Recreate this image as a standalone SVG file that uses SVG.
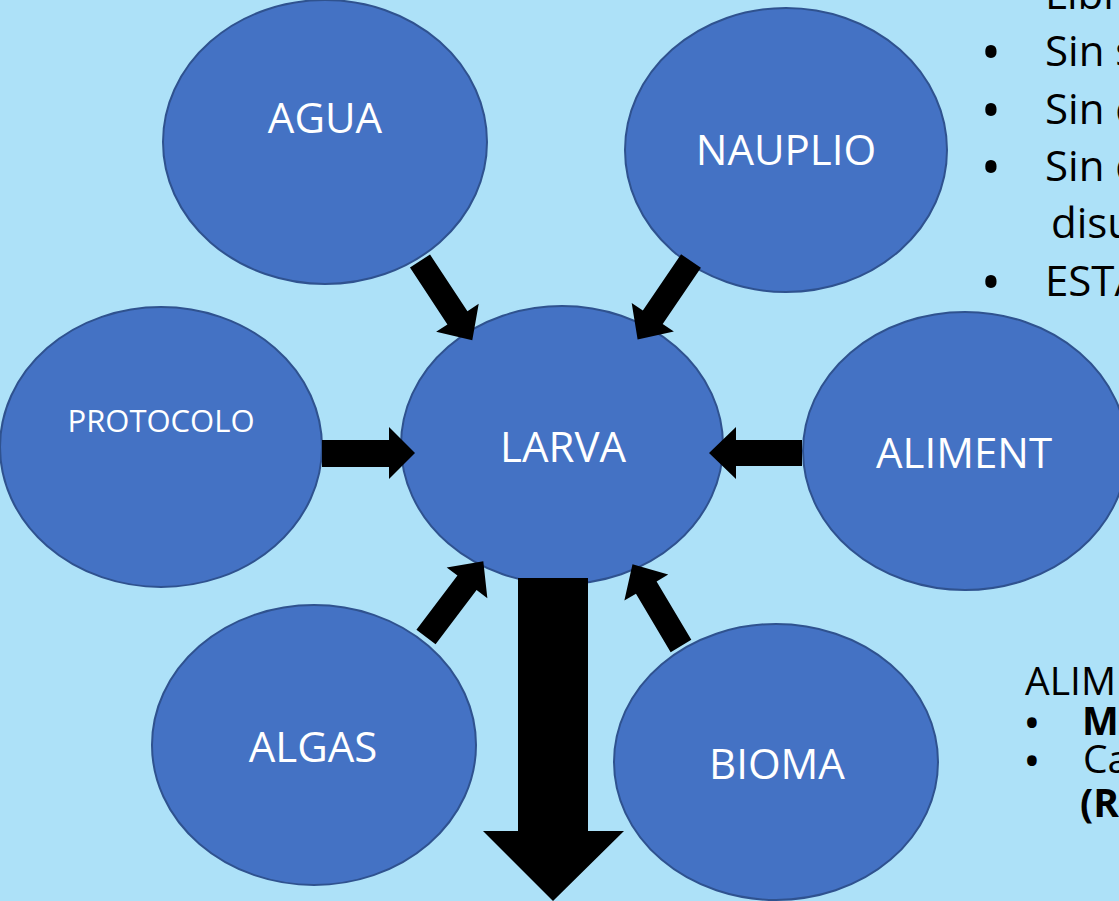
<svg xmlns="http://www.w3.org/2000/svg" width="1119" height="901" viewBox="0 0 1119 901">
<style>
.node{fill:#4472C4;stroke:#2F528F;stroke-width:2}
.lbl{fill:#FFFFFF;font-family:"Open Sans","Liberation Sans",sans-serif;font-size:42px;text-anchor:middle}
.arr{fill:#000000}
.side{fill:#000000;font-family:"Open Sans","Liberation Sans",sans-serif;font-size:42px}
.low{font-size:39px}
.bul{fill:#000000;font-family:"Open Sans","Liberation Sans",sans-serif;font-size:54px;text-anchor:middle}
.b{font-weight:bold}
</style>
<rect x="0" y="0" width="1119" height="901" fill="#ADE1F8"/>
<g id="agua"><ellipse class="node" cx="325" cy="142" rx="162" ry="142"/><text class="lbl" x="325" y="133">AGUA</text></g>
<g id="nauplio"><ellipse class="node" cx="786" cy="150" rx="161" ry="142"/><text class="lbl" x="786" y="165">NAUPLIO</text></g>
<g id="protocolo"><ellipse class="node" cx="161" cy="447" rx="161" ry="140"/><text class="lbl" x="161" y="432" style="font-size:31px">PROTOCOLO</text></g>
<g id="larva"><ellipse class="node" cx="562" cy="445" rx="161" ry="139"/><text class="lbl" x="563" y="462">LARVA</text></g>
<g id="aliment"><ellipse class="node" cx="965" cy="451" rx="162" ry="139"/><text class="lbl" x="964" y="468">ALIMENT</text></g>
<g id="algas"><ellipse class="node" cx="314" cy="745" rx="162" ry="140"/><text class="lbl" x="313" y="762">ALGAS</text></g>
<g id="bioma"><ellipse class="node" cx="776" cy="762" rx="162" ry="138"/><text class="lbl" x="777" y="779">BIOMA</text></g>
<g id="connectors">
<defs><polygon id="ba" points="0,-12 68,-12 68,-25.5 95,0 68,25.5 68,12 0,12"/></defs>
<use href="#ba" class="arr" transform="translate(420,261) rotate(56.6)"/>
<use href="#ba" class="arr" transform="translate(691,261) rotate(124.2)"/>
<polygon class="arr" points="322,440 389,440 389,427 415,453 389,479 389,467 322,467"/>
<polygon class="arr" points="802,440 736,440 736,427 709,453 736,479 736,466 802,466"/>
<use href="#ba" class="arr" transform="translate(426,637) rotate(-52.9)"/>
<use href="#ba" class="arr" transform="translate(681,646) rotate(-120.7)"/>
<polygon class="arr" points="518,578 588,578 588,831 624,831 553,901 483,831 518,831"/>
</g>
<g id="notes">
<text class="side" x="1045" y="9">Libr</text>
<text class="bul" x="991" y="72">•</text><text class="side" x="1045" y="66">Sin s</text>
<text class="bul" x="991" y="130">•</text><text class="side" x="1045" y="124">Sin d</text>
<text class="bul" x="991" y="187">•</text><text class="side" x="1045" y="181">Sin d</text>
<text class="side" x="1051" y="238">disu</text>
<text class="bul" x="991" y="302">•</text><text class="side" x="1045" y="296">ESTA</text>
<text class="side low" x="1025" y="695">ALIM</text>
<text class="bul" x="1032" y="739" style="font-size:46px">•</text><text class="side low b" x="1082" y="735">M</text>
<text class="bul" x="1032" y="777" style="font-size:46px">•</text><text class="side low" x="1083" y="773">Ca</text>
<text class="side low b" x="1080" y="817">(R</text>
</g>
</svg>
